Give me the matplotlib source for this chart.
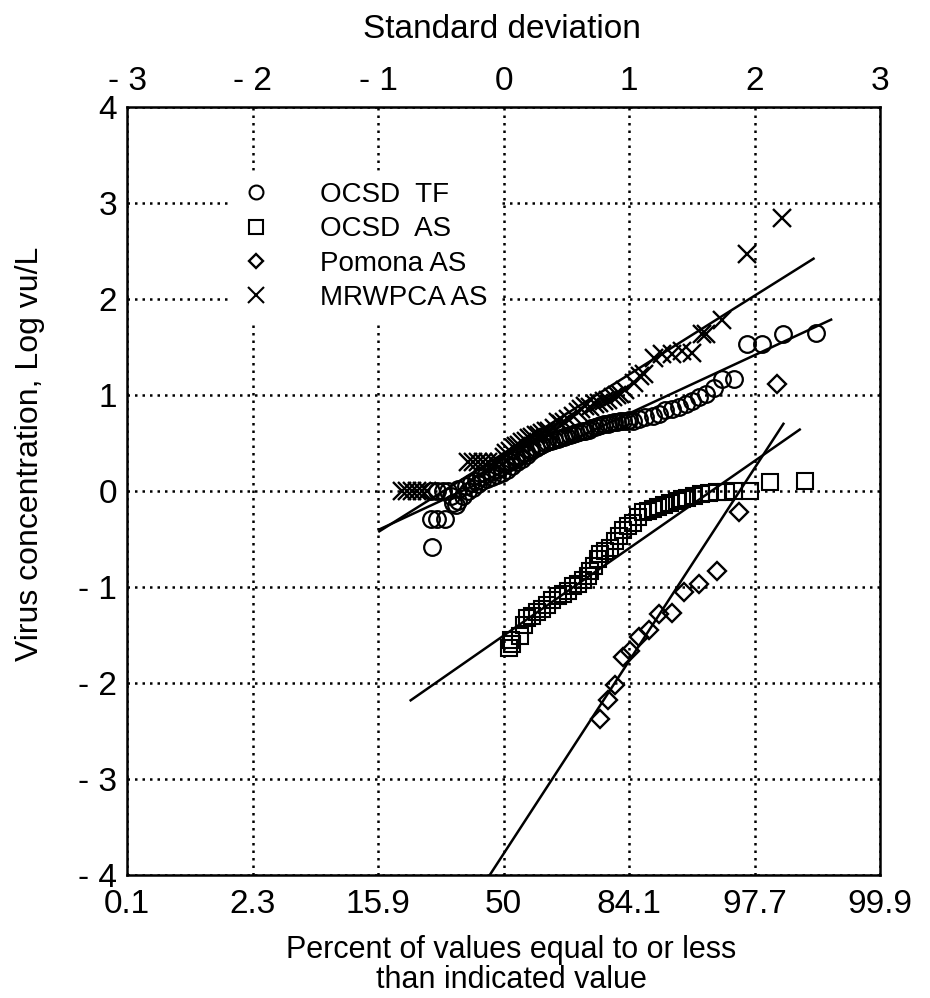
import numpy as np
import matplotlib
matplotlib.use('Agg')
import matplotlib.pyplot as plt
from matplotlib.lines import Line2D

plt.rcParams['font.family'] = ['Liberation Sans', 'DejaVu Sans']

# x = standard deviation (normal score), y = log virus concentration
tf_x = [-0.57, -0.58, -0.53, -0.47, -0.58, -0.53, -0.48, -0.44,
        -0.42, -0.40, -0.38, -0.36, -0.36, -0.32, -0.30, -0.28, -0.26, -0.24,
        -0.22, -0.20, -0.18, -0.17, -0.14, -0.13, -0.10, -0.09, -0.06, -0.05,
        -0.02, -0.01, 0.01, 0.03, 0.05, 0.07, 0.09, 0.11, 0.13, 0.15, 0.17,
        0.19, 0.21, 0.22, 0.26, 0.28, 0.30, 0.33, 0.35, 0.38, 0.40, 0.43,
        0.45, 0.48, 0.50, 0.53, 0.55, 0.58, 0.60, 0.63, 0.65, 0.68, 0.70,
        0.73, 0.75, 0.78, 0.80, 0.83, 0.85, 0.88, 0.90, 0.93, 0.95, 0.98,
        1.00, 1.03, 1.08, 1.13, 1.19, 1.24, 1.29, 1.34, 1.40, 1.45,
        1.50, 1.56, 1.61, 1.68, 1.74, 1.84, 1.94, 2.06, 2.23, 2.49]
tf_y = [-0.58, -0.29, -0.29, -0.29, 0.00, 0.00, 0.00, 0.00,
        -0.05, -0.12, -0.15, 0.02, -0.10, -0.05, 0.05, 0.00, 0.08, 0.03,
        0.10, 0.07, 0.15, 0.10, 0.18, 0.12, 0.20, 0.15, 0.22, 0.17,
        0.25, 0.19, 0.28, 0.22, 0.30, 0.26, 0.32, 0.30, 0.36, 0.33, 0.40,
        0.37, 0.44, 0.42, 0.45, 0.47, 0.48, 0.50, 0.51, 0.52, 0.53, 0.54,
        0.55, 0.56, 0.57, 0.58, 0.59, 0.60, 0.61, 0.62, 0.63, 0.64, 0.66,
        0.67, 0.68, 0.69, 0.70, 0.70, 0.71, 0.72, 0.72, 0.73, 0.73, 0.73,
        0.74, 0.73, 0.75, 0.77, 0.785, 0.80, 0.84, 0.85, 0.87, 0.91,
        0.94, 0.98, 1.01, 1.07, 1.17, 1.17, 1.53, 1.53, 1.64, 1.65]

as_x = [0.04, 0.06, 0.07, 0.13, 0.16, 0.19, 0.23, 0.27, 0.31, 0.35, 0.39,
        0.43, 0.47, 0.51, 0.55, 0.59, 0.63, 0.67, 0.69, 0.72, 0.75, 0.77,
        0.81, 0.85, 0.89, 0.92, 0.95, 0.99, 1.03, 1.07, 1.11, 1.15, 1.19,
        1.23, 1.28, 1.33, 1.38, 1.42, 1.46, 1.52, 1.57, 1.64, 1.70, 1.77,
        1.84, 1.96, 2.12, 2.40]
as_y = [-1.63, -1.55, -1.59, -1.51, -1.40, -1.32, -1.30, -1.26, -1.23,
        -1.19, -1.14, -1.09, -1.07, -1.04, -0.99, -0.97, -0.93, -0.88,
        -0.83, -0.78, -0.71, -0.66, -0.62, -0.59, -0.52, -0.47, -0.41,
        -0.36, -0.33, -0.27, -0.22, -0.21, -0.19, -0.17, -0.15, -0.12,
        -0.10, -0.08, -0.07, -0.05, -0.03, -0.02, -0.01, -0.01, 0.00,
        0.00, 0.09, 0.10]

pom_x = [0.77, 0.83, 0.89, 0.95, 1.01, 1.08, 1.16, 1.24, 1.34, 1.44, 1.56,
         1.70, 1.88, 2.18]
pom_y = [-2.37, -2.18, -2.02, -1.73, -1.67, -1.52, -1.45, -1.28, -1.27,
         -1.05, -0.97, -0.83, -0.22, 1.11]

mr_x = [-0.81, -0.77, -0.73, -0.69, -0.65, -0.61,
        -0.28, -0.24, -0.20, -0.16, -0.12, -0.08, -0.04,
        0.00, 0.02, 0.05, 0.08, 0.10, 0.12, 0.15, 0.18, 0.20, 0.23, 0.26,
        0.28, 0.31, 0.34, 0.36, 0.40, 0.43, 0.46, 0.48, 0.51, 0.55, 0.59,
        0.62, 0.65, 0.69, 0.73, 0.76, 0.80, 0.83, 0.87, 0.90, 0.93, 0.97,
        1.04, 1.09, 1.12, 1.20, 1.26, 1.34, 1.42, 1.50, 1.58, 1.61, 1.74,
        1.94, 2.22]
mr_y = [0.00, 0.00, 0.00, 0.00, 0.00, 0.00,
        0.30, 0.30, 0.30, 0.30, 0.30, 0.30, 0.30,
        0.35, 0.40, 0.42, 0.45, 0.47, 0.48, 0.51, 0.52, 0.55, 0.56, 0.58,
        0.58, 0.60, 0.62, 0.63, 0.66, 0.72, 0.70, 0.72, 0.75, 0.78, 0.82,
        0.85, 0.89, 0.88, 0.91, 0.92, 0.94, 0.95, 0.98, 1.00, 1.01, 1.05,
        1.13, 1.20, 1.22, 1.39, 1.43, 1.43, 1.46, 1.44, 1.64, 1.64, 1.78,
        2.47, 2.84]

# fitted lines (end points)
tf_fit_x = [-0.99, 2.61]
tf_fit_y = [-0.40, 1.785]
mr_fit_x = [-0.99, 2.47]
mr_fit_y = [-0.42, 2.42]
as_fit_x = [-0.74, 2.36]
as_fit_y = [-2.18, 0.64]
pom_fit_x = [-0.11, 2.23]
pom_fit_y = [-4.0, 0.70]

sd_ticks = [-3, -2, -1, 0, 1, 2, 3]
sd_labels = ['- 3', '- 2', '- 1', '0', '1', '2', '3']
pct_labels = ['0.1', '2.3', '15.9', '50', '84.1', '97.7', '99.9']
y_ticks = [-4, -3, -2, -1, 0, 1, 2, 3, 4]
y_labels = ['- 4', '- 3', '- 2', '- 1', '0', '1', '2', '3', '4']

fig = plt.figure(figsize=(9.3, 9.98), dpi=100)
ax = fig.add_axes([0.1366, 0.1232, 0.8097, 0.7696])

ax.set_xlim(-3, 3)
ax.set_ylim(-4, 4)
ax.grid(True, color='black', linestyle=(0, (1, 2.0)), linewidth=1.8, zorder=0)
for s in ax.spines.values():
    s.set_linewidth(1.8)

lw = 1.8
ax.plot(tf_fit_x, tf_fit_y, color='black', lw=lw, zorder=3)
ax.plot(mr_fit_x, mr_fit_y, color='black', lw=lw, zorder=3)
ax.plot(as_fit_x, as_fit_y, color='black', lw=lw, zorder=3)
ax.plot(pom_fit_x, pom_fit_y, color='black', lw=lw, zorder=3)

ax.plot(tf_x, tf_y, 'o', ms=12, mfc='none', mec='black', mew=1.6, zorder=4)
ax.plot(as_x, as_y, 's', ms=11.5, mfc='none', mec='black', mew=1.5, zorder=4)
ax.plot(pom_x, pom_y, 'D', ms=9, mfc='none', mec='black', mew=1.7, zorder=4)
ax.plot(mr_x, mr_y, 'x', ms=12.5, mec='black', mew=1.7, zorder=4)

ax.set_xticks(sd_ticks)
ax.set_xticklabels(pct_labels, fontsize=24)
ax.set_yticks(y_ticks)
ax.set_yticklabels(y_labels, fontsize=24)
ax.tick_params(axis='x', length=0, pad=10)
ax.tick_params(axis='y', length=0, pad=7)

top = ax.secondary_xaxis('top')
top.set_xticks(sd_ticks)
top.set_xticklabels(sd_labels, fontsize=24)
top.tick_params(length=0, pad=7)

handles = [
    Line2D([], [], ls='none', marker='o', ms=10, mfc='none', mec='black', mew=1.5),
    Line2D([], [], ls='none', marker='s', ms=10, mfc='none', mec='black', mew=1.5),
    Line2D([], [], ls='none', marker='D', ms=7.5, mfc='none', mec='black', mew=1.7),
    Line2D([], [], ls='none', marker='x', ms=11, mec='black', mew=1.5),
]
names = ['OCSD  TF', 'OCSD  AS', 'Pomona AS', 'MRWPCA AS']
leg = ax.legend(handles, names, loc='upper left', bbox_to_anchor=(0.12, 0.935),
                fontsize=20, frameon=True, framealpha=1, edgecolor='white',
                facecolor='white', fancybox=False, handlelength=1.0,
                handletextpad=1.8, labelspacing=0.3, borderpad=0.4)
leg.set_zorder(5)

fig.text(0.54, 1 - 30 / 998, 'Standard deviation', ha='center', va='center', fontsize=24)
fig.text(0.55, 1 - 950 / 998, 'Percent of values equal to or less', ha='center',
         va='center', fontsize=22)
fig.text(0.55, 1 - 980 / 998, 'than indicated value', ha='center', va='center',
         fontsize=22)
fig.text(30 / 930, 0.545, 'Virus concentration, Log vu/L', rotation=90,
         ha='center', va='center', fontsize=23)

fig.savefig('out.png', dpi=100, facecolor='white')
